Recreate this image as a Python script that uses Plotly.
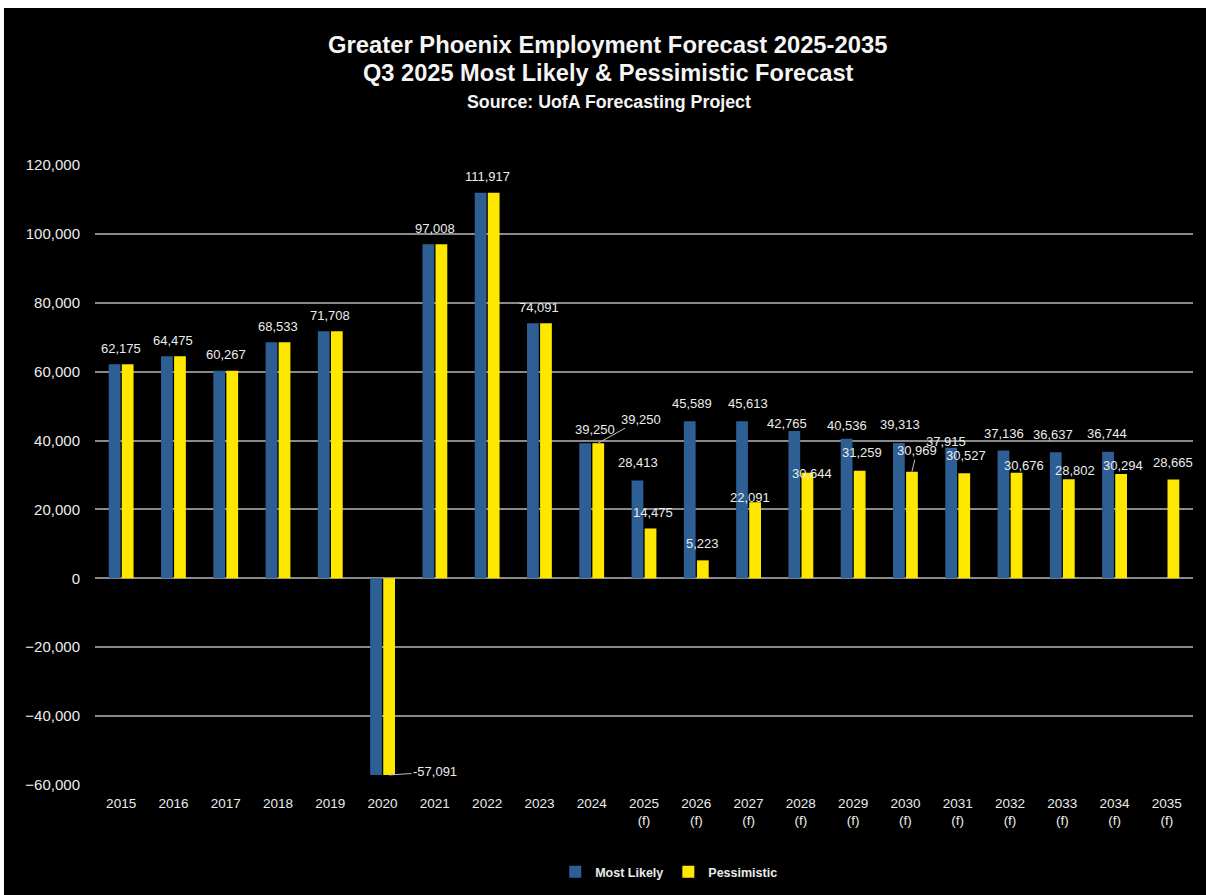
import plotly.graph_objects as go

# ---------------- data ----------------
tick_labels = ["2015", "2016", "2017", "2018", "2019", "2020", "2021", "2022", "2023", "2024",
               "2025<br>(f)", "2026<br>(f)", "2027<br>(f)", "2028<br>(f)", "2029<br>(f)", "2030<br>(f)",
               "2031<br>(f)", "2032<br>(f)", "2033<br>(f)", "2034<br>(f)", "2035<br>(f)"]
most_likely = [62175, 64475, 60267, 68533, 71708, -57091, 97008, 111917, 74091, 39250,
               28413, 45589, 45613, 42765, 40536, 39313, 37915, 37136, 36637, 36744, None]
pessimistic = [62175, 64475, 60267, 68533, 71708, -57091, 97008, 111917, 74091, 39250,
               14475, 5223, 22091, 30644, 31259, 30969, 30527, 30676, 28802, 30294, 28665]

title_1 = "Greater Phoenix Employment Forecast 2025-2035"
title_2 = "Q3 2025 Most Likely & Pessimistic Forecast"
title_3 = "Source: UofA Forecasting Project"

# ---------------- styles ----------------
BLUE = "#2E5F94"
YELLOW = "#FFE800"
GRID = "#8A8A8A"
TXT = "#ECECEC"
FONT = "Liberation Sans, Arial, sans-serif"

N_HIST = 9  # years where both scenarios share one label
BAR_OFF = 6.5  # px from category centre to each bar centre

# label placement (px): dx from bar centre, dy of label centre from bar end (neg = above)
ml_dx = [0, 0, 0, 0, 0, 0, 0, 0, 0, 10, 0, 2, 6, -7, 0, 1, -5, 0, -3, -1, 0]
ml_dy = [-16] * 9 + [-14, -18, -18, -18, -8, -13, -18, -6, -17, -18, -18, 0]
pe_dx = [0] * 9 + [43, 2, 0, -5, 5, 2, 5, 2, 7, 6, 2, 0]
pe_dy = [0] * 9 + [-24, -16, -17, -5, 1, -18, -21, -18, -7, -9, -8, -17]
pe_leader = {9, 15}

fig = go.Figure()
fig.add_trace(go.Bar(x=tick_labels, y=most_likely, name="Most Likely",
                     marker=dict(color=BLUE, line=dict(width=0))))
fig.add_trace(go.Bar(x=tick_labels, y=pessimistic, name="Pessimistic",
                     marker=dict(color=YELLOW, line=dict(width=0))))

lab_font = dict(family=FONT, size=13, color=TXT)
annotations = []


def fmt(v):
    return f"{v:,}"


for i in range(len(tick_labels)):
    if i < N_HIST:
        v = most_likely[i]
        if v < 0:
            annotations.append(dict(x=i, y=v, xref="x", yref="y", text=fmt(v), font=lab_font,
                                    showarrow=True, ax=46, ay=-3, axref="pixel", ayref="pixel",
                                    xshift=BAR_OFF, arrowhead=0, arrowwidth=1, arrowcolor="#BFBFBF"))
        else:
            annotations.append(dict(x=i, y=v, xref="x", yref="y", text=fmt(v), font=lab_font,
                                    showarrow=False, xanchor="center", yanchor="middle",
                                    yshift=16))
        continue
    v = most_likely[i]
    if v is not None:
        annotations.append(dict(x=i, y=v, xref="x", yref="y", text=fmt(v), font=lab_font,
                                showarrow=False, xanchor="center", yanchor="middle",
                                xshift=-BAR_OFF + ml_dx[i], yshift=-ml_dy[i]))
    p = pessimistic[i]
    if p is not None:
        if i in pe_leader:
            annotations.append(dict(x=i, y=p, xref="x", yref="y", text=fmt(p), font=lab_font,
                                    showarrow=True, ax=pe_dx[i], ay=pe_dy[i], axref="pixel",
                                    ayref="pixel", xshift=BAR_OFF, arrowhead=0, arrowwidth=1,
                                    arrowcolor="#BFBFBF", standoff=0))
        else:
            annotations.append(dict(x=i, y=p, xref="x", yref="y", text=fmt(p), font=lab_font,
                                    showarrow=False, xanchor="center", yanchor="middle",
                                    xshift=BAR_OFF + pe_dx[i], yshift=-pe_dy[i]))

# titles
PLOT_TOP, PLOT_H = 165, 620
def py(pix):
    return (PLOT_TOP + PLOT_H - pix) / PLOT_H

annotations += [
    dict(x=0.5, y=py(44), xref="paper", yref="paper", text=f"<b>{title_1}</b>", showarrow=False,
         font=dict(family=FONT, size=23.8, color="#F5F5F5"), xanchor="center", yanchor="middle",
         xshift=-37),
    dict(x=0.5, y=py(73), xref="paper", yref="paper", text=f"<b>{title_2}</b>", showarrow=False,
         font=dict(family=FONT, size=23.6, color="#F5F5F5"), xanchor="center", yanchor="middle",
         xshift=-36),
    dict(x=0.5, y=py(102), xref="paper", yref="paper", text=f"<b>{title_3}</b>", showarrow=False,
         font=dict(family=FONT, size=17.8, color="#F5F5F5"), xanchor="center", yanchor="middle",
         xshift=-35),
]

fig.update_layout(
    width=1206, height=895, autosize=False,
    margin=dict(l=95, r=13, t=165, b=110, autoexpand=False),
    paper_bgcolor="black", plot_bgcolor="black",
    barmode="group", bargap=0.5, bargroupgap=0.1,
    showlegend=True,
    legend=dict(orientation="h", x=0.5225, xanchor="center", y=py(872), yanchor="middle",
                font=dict(family=FONT, size=12.5, color=TXT, weight="bold"),
                bgcolor="rgba(0,0,0,0)", itemwidth=30, traceorder="normal"),
    annotations=annotations,
    shapes=[
        dict(type="rect", xref="paper", yref="paper", x0=-0.2, x1=-0.0829, y0=-0.3, y1=1.4,
             fillcolor="white", line=dict(width=0), layer="above"),
        dict(type="rect", xref="paper", yref="paper", x0=-0.2, x1=1.2, y0=py(8), y1=1.4,
             fillcolor="white", line=dict(width=0), layer="above"),
    ],
)
fig.update_xaxes(type="category", range=[-0.5, len(tick_labels) - 0.5], showgrid=False,
                 showline=False, ticks="", tickfont=dict(family=FONT, size=13.5, color=TXT),
                 ticklabelstandoff=8, zeroline=False)
fig.update_yaxes(range=[-60000, 120000], dtick=20000, tickformat=",d", showgrid=True,
                 gridcolor=GRID, gridwidth=2, zeroline=True, zerolinecolor=GRID, zerolinewidth=2,
                 showline=False, ticks="", tickfont=dict(family=FONT, size=15, color=TXT),
                 ticklabelstandoff=14)

fig.write_html("out.html", config={"displayModeBar": False},
               post_script="document.body.style.margin='0';")
